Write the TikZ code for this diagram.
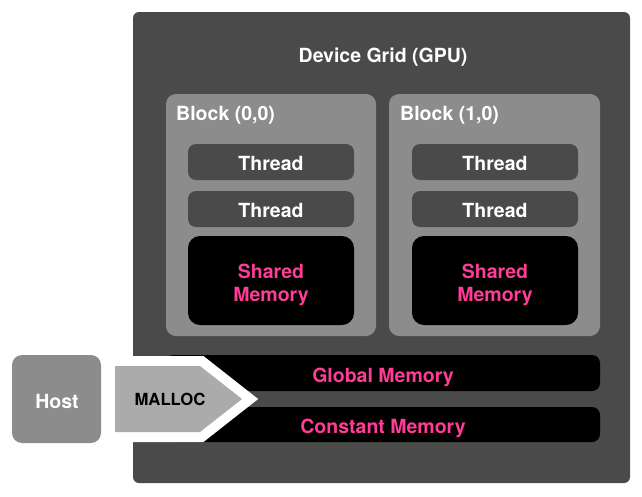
\documentclass[tikz,border=0pt]{standalone}
\usepackage{fontspec}
\setmainfont{TeX Gyre Heros}
\definecolor{dev}{HTML}{4A4A4A}
\definecolor{blk}{HTML}{8C8C8C}
\definecolor{arr}{HTML}{ABABAB}
\definecolor{pinkt}{HTML}{FF3C96}
\begin{document}
\begin{tikzpicture}[x=1pt,y=-1pt,
  box/.style={rectangle,anchor=north west,inner sep=0pt,outer sep=0pt},
  lbl/.style={font=\fontsize{19.5}{23}\selectfont\bfseries,text=white,align=center,inner sep=0pt,anchor=base},
  plbl/.style={lbl,text=pinkt},
  thr/.style={box,fill=dev,rounded corners=8pt,minimum width=166pt,minimum height=36pt},
  shm/.style={box,fill=black,rounded corners=12pt,minimum width=166pt,minimum height=89pt},
  blkbox/.style={box,fill=blk,rounded corners=10pt,minimum height=242pt},
  bar/.style={box,fill=black,rounded corners=8pt,minimum width=435pt}]
\useasboundingbox (0,0) rectangle (642,496);
\fill[white] (0,0) rectangle (642,496);
\node[box,fill=dev,rounded corners=6pt,minimum width=497pt,minimum height=471pt] (dev) at (133,12) {};
\node[lbl] (title) at (383,62) {Device Grid (GPU)};
% blocks
\node[blkbox,minimum width=210pt] (b0) at (166,94) {};
\node[blkbox,minimum width=211pt] (b1) at (389,94) {};
\node[lbl,anchor=base west] (b0l) at (176,120) {Block (0,0)};
\node[lbl,anchor=base west] (b1l) at (400,120) {Block (1,0)};
\node[thr] (t00) at (188,144) {};
\node[lbl] (t00l) at (271,170) {Thread};
\node[thr] (t01) at (188,191) {};
\node[lbl] (t01l) at (271,217) {Thread};
\node[shm] (s0) at (188,236) {};
\node[plbl] (s0l) at (271,301) {Shared\\Memory};
\node[thr] (t10) at (412,144) {};
\node[lbl] (t10l) at (495,170) {Thread};
\node[thr] (t11) at (412,191) {};
\node[lbl] (t11l) at (495,217) {Thread};
\node[shm] (s1) at (412,236) {};
\node[plbl] (s1l) at (495,301) {Shared\\Memory};
% memories
\node[bar,minimum height=36pt] (gm) at (165,355) {};
\node[plbl] (gml) at (383,382) {Global Memory};
\node[bar,minimum height=35pt] (cm) at (165,407) {};
\node[plbl] (cml) at (383,433) {Constant Memory};
% host
\node[box,fill=blk,rounded corners=10pt,minimum width=89pt,minimum height=88pt] (host) at (12,355) {};
\node[lbl] (hostl) at (57,408) {Host};
% malloc arrow
\draw[white,line width=20pt,line join=miter,fill=white] (115,366) -- (200,366) -- (242,399) -- (200,432) -- (115,432) -- cycle;
\fill[arr] (115,366) -- (200,366) -- (242,399) -- (200,432) -- (115,432) -- cycle;
\node[font=\fontsize{16.7}{20}\selectfont\bfseries,text=black,inner sep=0pt,anchor=base] (malloc) at (170,405) {MALLOC};
\end{tikzpicture}
\end{document}
